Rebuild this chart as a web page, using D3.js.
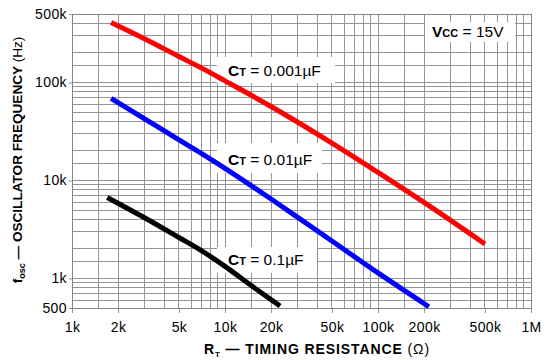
<!DOCTYPE html>
<html>
<head>
<meta charset="utf-8">
<script src="https://cdn.jsdelivr.net/npm/d3@7"></script>
<style>
  body { margin: 0; background: #fff; }
  text { font-family: "Liberation Sans", Arial, sans-serif; }
</style>
</head>
<body>
<div class="chart"></div>
<script>
// data (R in ohms, f in Hz)
var rRed   = [1800, 3000, 5000, 7000, 10000, 20000, 50000, 100000, 200000, 500000];
var fRed   = [410000, 278000, 184000, 141000, 104000, 56900, 24100, 12100, 5970, 2250];
var rBlue  = [1800, 3000, 5000, 7000, 10000, 20000, 50000, 100000, 215000];
var fBlue  = [69000, 42400, 25900, 18900, 13300, 6470, 2410, 1140, 515];
var rBlack = [1700, 3000, 5000, 7000, 10000, 15000, 22900];
var fBlack = [6700, 4140, 2620, 1930, 1330, 838, 524];

var xTickVals = [1e3, 2e3, 5e3, 1e4, 2e4, 5e4, 1e5, 2e5, 5e5, 1e6];
var xTickText = ["1k", "2k", "5k", "10k", "20k", "50k", "100k", "200k", "500k", "1M"];
var yTickVals = [500, 1e3, 1e4, 1e5, 5e5];
var yTickText = ["500", "1k", "10k", "100k", "500k"];
var gridMult = [1, 1.5, 2, 3, 4, 5, 6, 7, 8, 9];

var svgWidth = 547, svgHeight = 360;
var margin = { top: 14, right: 16, bottom: 52, left: 72 };
var width = svgWidth - margin.left - margin.right;
var height = svgHeight - margin.top - margin.bottom;

var svg = d3.select(".chart").append("svg")
  .attr("width", svgWidth)
  .attr("height", svgHeight);

var g = svg.append("g")
  .attr("transform", `translate(${margin.left}, ${margin.top})`);

var x = d3.scaleLog().domain([1e3, 1e6]).range([0, width]);
var y = d3.scaleLog().domain([500, 5e5]).range([height, 0]);

// grid
var xGrid = [], yGrid = [];
[1e3, 1e4, 1e5].forEach(function(d) { gridMult.forEach(function(m) { xGrid.push(d * m); }); });
xGrid.push(1e6);
[100, 1e3, 1e4, 1e5].forEach(function(d) { gridMult.forEach(function(m) { var v = d * m; if (v >= 500 && v <= 5e5) yGrid.push(v); }); });
yGrid.push(5e5);

g.selectAll(".vgrid").data(xGrid).enter().append("line")
  .attr("x1", d => x(d)).attr("x2", d => x(d))
  .attr("y1", 0).attr("y2", height)
  .attr("stroke", "#959595").attr("stroke-width", 1).attr("shape-rendering", "crispEdges");

g.selectAll(".hgrid").data(yGrid).enter().append("line")
  .attr("y1", d => y(d)).attr("y2", d => y(d))
  .attr("x1", 0).attr("x2", width)
  .attr("stroke", "#959595").attr("stroke-width", 1).attr("shape-rendering", "crispEdges");

// axes
var bottomAxis = d3.axisBottom(x).tickValues(xTickVals)
  .tickFormat((d, i) => xTickText[i]).tickSize(5).tickPadding(9);
var leftAxis = d3.axisLeft(y).tickValues(yTickVals)
  .tickFormat((d, i) => yTickText[i]).tickSize(3).tickPadding(2);

var gx = g.append("g").attr("transform", `translate(0, ${height})`).call(bottomAxis);
var gy = g.append("g").call(leftAxis);
[gx, gy].forEach(function(a) {
  a.select(".domain").remove();
  a.selectAll(".tick line").attr("stroke", "#959595");
  a.selectAll(".tick text").attr("font-size", "14px").attr("fill", "#000")
    .attr("letter-spacing", "0.4px")
    .attr("font-family", "Liberation Sans, Arial, sans-serif");
});

g.append("rect").attr("width", width).attr("height", height)
  .attr("fill", "none").attr("stroke", "#858585").attr("shape-rendering", "crispEdges");

// curve labels: white boxes first, curves drawn over them
var labels = [
  { px: 156, py: 62, big: "C", small: "T", rest: " = 0.001\u00b5F", bx: 145, by: 43, bw: 118, bh: 26 },
  { px: 156, py: 151, big: "C", small: "T", rest: " = 0.01\u00b5F", bx: 145, by: 129, bw: 105, bh: 30 },
  { px: 156, py: 251, big: "C", small: "T", rest: " = 0.1\u00b5F", bx: 145, by: 233, bw: 100, bh: 26 },
  { px: 360, py: 23, big: "V", small: "CC", rest: " = 15V", bx: 353, by: 8, bw: 90, bh: 20 }
];
labels.forEach(function(l) {
  g.append("rect").attr("x", l.bx).attr("y", l.by)
    .attr("width", l.bw).attr("height", l.bh).attr("fill", "#fff");
});

// curves
var line = d3.line()
  .x(d => x(d[0]))
  .y(d => y(d[1]))
  .curve(d3.curveCatmullRom);

[[rRed, fRed, "#ff0000"], [rBlue, fBlue, "#0000ff"], [rBlack, fBlack, "#000"]].forEach(function(s) {
  g.append("path")
    .datum(d3.zip(s[0], s[1]))
    .attr("d", line)
    .attr("fill", "none")
    .attr("stroke", s[2])
    .attr("stroke-width", 5);
});

labels.forEach(function(l) {
  var t = g.append("text").attr("x", l.px).attr("y", l.py).attr("font-size", "15.5px");
  t.append("tspan").attr("font-weight", "bold").text(l.big);
  t.append("tspan").attr("font-weight", "bold").attr("font-size", "11px").text(l.small);
  t.append("tspan").text(l.rest);
});

// axis titles
var yt = svg.append("text")
  .attr("transform", "translate(22, 160) rotate(-90)")
  .attr("text-anchor", "middle")
  .attr("font-size", "13.6px")
  .attr("font-weight", "bold");
yt.append("tspan").text("f");
yt.append("tspan").attr("font-size", "9px").attr("dy", 3).text("osc");
yt.append("tspan").attr("dy", -3).text(" \u2014 OSCILLATOR FREQUENCY ");
yt.append("tspan").attr("font-weight", "normal").text("(Hz)");

var xt = svg.append("text")
  .attr("x", 317).attr("y", 354)
  .attr("text-anchor", "middle")
  .attr("font-size", "14px")
  .attr("letter-spacing", "0.9px")
  .attr("font-weight", "bold");
xt.append("tspan").text("R");
xt.append("tspan").attr("font-size", "8px").attr("dy", 3).text("T");
xt.append("tspan").attr("dy", -3).text(" \u2014 TIMING RESISTANCE ");
xt.append("tspan").attr("font-weight", "normal").text("(\u03a9)");
</script>
</body>
</html>
